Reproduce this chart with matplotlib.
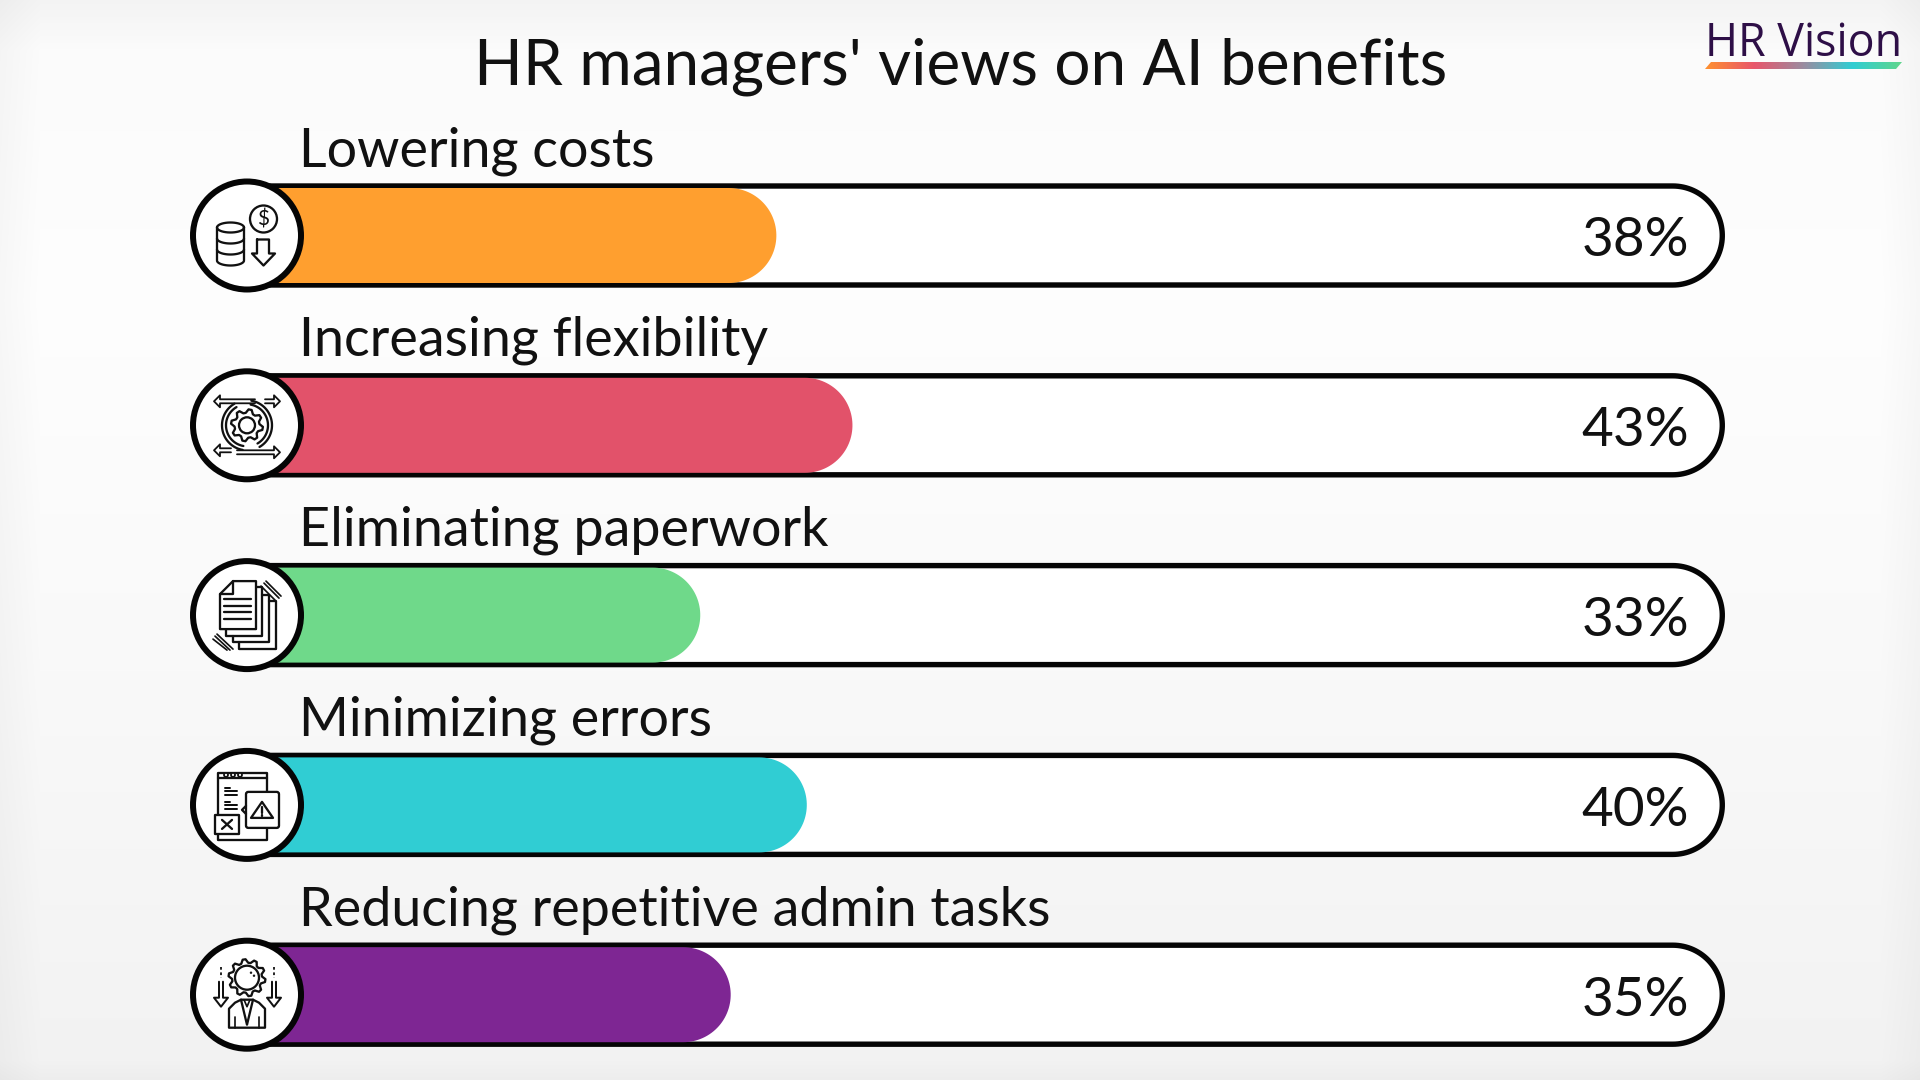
import numpy as np
import matplotlib
matplotlib.use('Agg')
import matplotlib.pyplot as plt
from matplotlib.colors import LinearSegmentedColormap
from matplotlib.patches import Circle, FancyBboxPatch, Polygon

plt.rcParams['font.family'] = ['Lato', 'DejaVu Sans']

title = "HR managers' views on AI benefits"
categories = ['Lowering costs', 'Increasing flexibility', 'Eliminating paperwork',
              'Minimizing errors', 'Reducing repetitive admin tasks']
values = [38, 43, 33, 40, 35]
colors = ['#FF9F2F', '#E2526A', '#6FD98A', '#30CDD3', '#7E2693']

# layout in reference pixels
ZERO = 198
SCALE = 15.22
ROW0 = 235.5
ROWSTEP = 189.8
LW = 0.72  # points per pixel at dpi 100
STROKE = 2.3


def X(px):
    return (px - ZERO) / SCALE


def Y(py):
    return py / SCALE


fig = plt.figure(figsize=(19.2, 10.8), dpi=100)
ax = fig.add_axes([0, 0, 1, 1])
ax.axis('off')

# soft grey background
col = np.interp(np.arange(1080), [0, 50, 300, 700, 1060, 1080], [0.955, 0.985, 0.995, 0.975, 0.95, 0.93])
row = np.interp(np.arange(1920), [0, 40, 1880, 1920], [0.975, 1, 1, 0.975])
bg = np.outer(col, row)
fig.figimage(np.dstack([bg, bg, bg]), 0, 0, zorder=-5, origin='upper')


def pill(x1, yc, r, **kw):
    # bar from 0 to x1 (axis units) with true half circle ends, r in pixels
    r = r / SCALE
    t = np.linspace(-np.pi / 2, np.pi / 2, 60)
    right = np.c_[x1 - r + r * np.cos(t), Y(yc) + r * np.sin(t)]
    left = np.c_[r - r * np.cos(t), Y(yc) - r * np.sin(t)]
    ax.add_patch(Polygon(np.r_[right, left], closed=True, **kw))


def line(cx, cy, pts, lw=STROKE, **kw):
    pts = np.array(pts, dtype=float)
    ax.plot(X(cx + pts[:, 0]), Y(cy + pts[:, 1]), color='#111111', lw=lw * LW, zorder=6,
            solid_capstyle='round', solid_joinstyle='round', **kw)


def poly(cx, cy, pts, lw=STROKE, fill='white'):
    pts = np.array(pts, dtype=float)
    ax.add_patch(Polygon(np.c_[X(cx + pts[:, 0]), Y(cy + pts[:, 1])], closed=True, facecolor=fill,
                         edgecolor='#111111', lw=lw * LW, zorder=6, joinstyle='round'))


def circ(cx, cy, dx, dy, r, lw=STROKE, fill='white'):
    ax.add_patch(Circle((X(cx + dx), Y(cy + dy)), r / SCALE, facecolor=fill, edgecolor='#111111',
                        lw=lw * LW, zorder=6))


def arc(cx, cy, dx, dy, rx, ry, a0, a1, lw=STROKE):
    t = np.radians(np.linspace(a0, a1, 40))
    line(cx, cy, np.c_[dx + rx * np.cos(t), dy + ry * np.sin(t)], lw=lw)


def gear(cx, cy, dx, dy, r_out, r_in, teeth=8):
    t = np.linspace(0, 2 * np.pi, teeth * 4, endpoint=False) + np.pi / (teeth * 4)
    r = np.tile([r_out, r_out, r_in, r_in], teeth)
    poly(cx, cy, np.c_[dx + r * np.cos(t), dy + r * np.sin(t)])


def arrow_h(cx, cy, x0, x1, y, head=6):
    s = 1 if x1 > x0 else -1
    line(cx, cy, [(x0, y - 2), (x1 - s * head, y - 2), (x1 - s * head, y - 6), (x1, y),
                  (x1 - s * head, y + 6), (x1 - s * head, y + 2), (x0, y + 2)], lw=1.8)


def arrow_down(cx, cy, x, y0, y1):
    line(cx, cy, [(x - 2, y0), (x - 2, y1 - 9), (x - 7, y1 - 9), (x, y1), (x + 7, y1 - 9),
                  (x + 2, y1 - 9), (x + 2, y0)], lw=2)


def icon_costs(cx, cy):
    circ(cx, cy, 16.5, -16.5, 13.5)
    ax.text(X(cx + 16.5), Y(cy - 16), '$', fontsize=15, ha='center', va='center', color='#111111', zorder=7)
    line(cx, cy, [(10, 4), (22, 4), (22, 18), (28, 18), (16.5, 30), (5, 18), (10, 18), (10, 4)])
    line(cx, cy, [(-30, -8), (-30, 25)])
    line(cx, cy, [(-3, -8), (-3, 25)])
    arc(cx, cy, -16.5, -8, 13.5, 5, 0, 360)
    for dy in [3, 14, 25]:
        arc(cx, cy, -16.5, dy, 13.5, 5, 0, 180)


def icon_flex(cx, cy):
    gear(cx, cy, 0, 0, 16, 12.5)
    circ(cx, cy, 0, 0, 8)
    for r in [21, 25]:
        arc(cx, cy, 0, 0, r, r, -80, 60)
        arc(cx, cy, 0, 0, r, r, 100, 240)
    arrow_h(cx, cy, 8, -33, -24)
    arrow_h(cx, cy, 18, 33, -24)
    arrow_h(cx, cy, -16, -33, 25)
    arrow_h(cx, cy, -10, 33, 27)


def icon_paper(cx, cy):
    line(cx, cy, [(22, -14), (29, -14), (29, 34), (-8, 34), (-8, 27)])
    line(cx, cy, [(15, -20), (22, -20), (22, 27), (-14, 27), (-14, 21)])
    line(cx, cy, [(9, -28), (15, -28), (15, 21), (-21, 21), (-21, 14)])
    poly(cx, cy, [(-27, -21), (-14, -34), (9, -34), (9, 14), (-27, 14)])
    line(cx, cy, [(-14, -34), (-14, -21), (-27, -21)])
    for dy in [-16, -9, -3, 4]:
        line(cx, cy, [(-23, dy), (4, dy)])
    for a, b in [((19, -34), (34, -19)), ((17, -32), (32, -17)), ((14, -29), (28, -15)),
                 ((-30, 19), (-14, 34)), ((-32, 21), (-17, 35)), ((-34, 24), (-20, 35))]:
        line(cx, cy, [a, b], lw=1.7)


def icon_errors(cx, cy):
    poly(cx, cy, [(-29, -32), (20, -32), (20, 35), (-29, 35)])
    line(cx, cy, [(-29, -27), (20, -27)])
    for dx in [-21, -14, -7]:
        circ(cx, cy, dx, -30, 2, lw=1.8)
    for x1, dy in [(-17, -17), (-10, -14), (-10, -10), (-17, -3), (-10, 0), (-10, 4)]:
        line(cx, cy, [(-22, dy), (x1, dy)], lw=2)
    ax.add_patch(FancyBboxPatch((X(cx - 1), Y(cy - 13)), 33 / SCALE, 36 / SCALE,
                                boxstyle='round,pad=0,rounding_size=0.15',
                                facecolor='white', edgecolor='#111111', lw=STROKE * LW, zorder=6))
    line(cx, cy, [(-1, 1), (-5, 5), (-1, 9)])
    poly(cx, cy, [(15, -3), (4, 13), (26, 13)])
    line(cx, cy, [(15, 2), (15, 8)])
    line(cx, cy, [(15, 10.5), (15, 11)])
    poly(cx, cy, [(-32, 10), (-8, 10), (-8, 29), (-32, 29)])
    line(cx, cy, [(-25, 15), (-15, 24)])
    line(cx, cy, [(-15, 15), (-25, 24)])


def icon_person(cx, cy):
    gear(cx, cy, 0, -17, 18.5, 15, teeth=10)
    circ(cx, cy, 0, -17, 12)
    circ(cx, cy, 4, -22, 0.5, lw=1.4)
    circ(cx, cy, 7, -19, 0.5, lw=1.4)
    poly(cx, cy, [(-18, 33), (-18, 14), (-12, 8), (-6, 5), (6, 5), (12, 8), (18, 14), (18, 33)])
    line(cx, cy, [(-6, 5), (0, 30), (6, 5)])
    line(cx, cy, [(-3, 5), (0, 12), (3, 5)], lw=1.7)
    line(cx, cy, [(-12, 22), (-12, 33)], lw=1.7)
    line(cx, cy, [(12, 22), (12, 33)], lw=1.7)
    for x in [-26, 27]:
        line(cx, cy, [(x, -28), (x, -17)], lw=1.8, linestyle=(0, (1.5, 1.5)))
        arrow_down(cx, cy, x, -13, 12)


icons = [icon_costs, icon_flex, icon_paper, icon_errors, icon_person]

for i, (name, v, c) in enumerate(zip(categories, values, colors)):
    yc = ROW0 + i * ROWSTEP
    # track
    pill(100.15, yc, 49.5, facecolor='white', edgecolor='#050505', lw=5.4 * LW, zorder=2)
    # filled part
    pill(v, yc, 47.5, facecolor=c, edgecolor='none', zorder=3)
    # icon disc
    ax.add_patch(Circle((X(247), Y(yc)), 54 / SCALE, facecolor='white', edgecolor='#050505', lw=6 * LW, zorder=4))
    icons[i](247, yc)
    ax.text(X(299), Y(yc - 69.5), name, fontsize=38.8, ha='left', va='baseline', color='#111111', zorder=5)
    ax.text(X(1689), Y(yc + 21), f'{v}%', fontsize=39.5, ha='right', va='baseline', color='#111111', zorder=5)

ax.text(X(960.5), Y(85), title, fontsize=46, ha='center', va='baseline', color='#111111')

# logo
ax.text(X(1902), Y(56), 'HR Vision', fontsize=32.2, ha='right', va='baseline', color='#2E0F47',
        family=['Open Sans', 'DejaVu Sans'])
logo_cmap = LinearSegmentedColormap.from_list('logo', ['#FF9130', '#E8556B', '#9A8CA0', '#30CDD3', '#5FD68C'])
im = ax.imshow(np.linspace(0, 1, 256).reshape(1, -1), cmap=logo_cmap, aspect='auto', zorder=3,
               extent=[X(1705), X(1902), Y(69), Y(62)])
im.set_clip_path(Polygon(np.c_[X(np.array([1711, 1902, 1896, 1705])), Y(np.array([62, 62, 69, 69]))],
                         closed=True, transform=ax.transData))

ax.set_xlim(X(0), X(1920))
ax.set_ylim(Y(1080), Y(0))
fig.savefig('out.png', dpi=100)
